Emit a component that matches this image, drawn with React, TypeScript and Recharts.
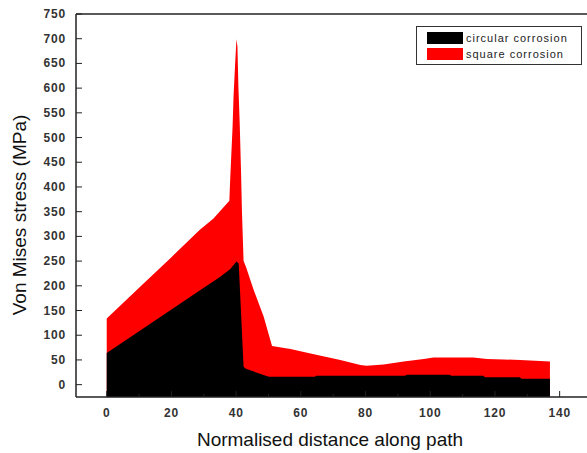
import React from "react";
import { AreaChart, Area, XAxis, YAxis, ReferenceLine } from "recharts";

// values (distance along path → Von Mises stress, MPa)
const circularX = [0, 10, 20, 30, 35, 38.2, 40.1, 40.8, 42.3, 43, 50.1, 64.3, 64.8, 92.2, 92.7, 106, 106.5, 116.4, 116.9, 127.7, 128.2, 137];
const circularY = [64, 108, 152, 196, 218, 234, 249, 245, 36, 32, 16, 16, 18, 18, 20, 20, 18, 18, 15, 15, 12, 12];

const squareX = [0, 10, 20, 28.7, 33, 37.9, 38.2, 38.9, 39.2, 39.7, 40.1, 40.4, 40.7, 41.1, 41.5, 41.8, 42.3, 43, 45.4, 48.5, 51.1, 56.8, 63, 72.2, 78.4, 80.3, 85.6, 91.8, 98, 101, 113.3, 117.5, 122.7, 127.8, 137];
const squareY = [134, 196, 258, 313, 336, 372, 421, 522, 583, 651, 699, 684, 603, 530, 435, 350, 250, 239, 192, 138, 78, 72, 63, 50, 40, 38, 41, 47, 52, 55, 55, 52, 51, 50, 47];

const xTicks = [0, 10, 20, 30, 40, 50, 60, 70, 80, 90, 100, 110, 120, 130, 140];
const yTicks = [0, 25, 50, 75, 100, 125, 150, 175, 200, 225, 250, 275, 300, 325, 350, 375, 400, 425, 450, 475, 500, 525, 550, 575, 600, 625, 650, 675, 700, 725, 750];

const SERIES = [
  { key: "circular", name: "circular corrosion", color: "#000000" },
  { key: "square", name: "square corrosion", color: "#ff0000" },
];

const FONT = "'Liberation Sans', Arial, sans-serif";
const AXIS = "#222";

// merge both series into one table keyed by distance
const table = (() => {
  const rows: Record<number, { x: number; circular?: number | null; square?: number | null }> = {};
  circularX.forEach((x, i) => {
    rows[x] = { ...(rows[x] || { x }), circular: circularY[i] };
  });
  squareX.forEach((x, i) => {
    rows[x] = { ...(rows[x] || { x }), square: squareY[i] };
  });
  return Object.values(rows)
    .sort((a, b) => a.x - b.x)
    .map((r) => ({ x: r.x, circular: r.circular ?? null, square: r.square ?? null }));
})();

const YTick = (props: any) => {
  const { x, y, payload } = props;
  const major = payload.value % 50 === 0;
  const ax = x + 10;
  return (
    <g>
      <line x1={ax} x2={ax + (major ? 6 : 3)} y1={y} y2={y} stroke={AXIS} strokeWidth={1} />
      {major && (
        <text x={x} y={y} dy={4} textAnchor="end" fontFamily={FONT} fontSize={12} fontWeight="bold" letterSpacing={0.8} fill="#333">
          {payload.value}
        </text>
      )}
    </g>
  );
};

const XTick = (props: any) => {
  const { x, y, payload } = props;
  const major = payload.value % 20 === 0;
  const ay = y - 10;
  return (
    <g>
      <line x1={x} x2={x} y1={ay} y2={ay - (major ? 6 : 3)} stroke={AXIS} strokeWidth={1} />
      {major && (
        <text x={x} y={y} dy={10} textAnchor="middle" fontFamily={FONT} fontSize={12} fontWeight="bold" letterSpacing={0.8} fill="#333">
          {payload.value}
        </text>
      )}
    </g>
  );
};

const LegendBox = () => (
  <div
    style={{
      position: "absolute",
      left: 416,
      top: 26,
      width: 166,
      height: 39,
      border: "1px solid #333",
      background: "#fff",
      padding: "3px 0 0 10px",
      boxSizing: "border-box",
      fontFamily: FONT,
      fontSize: 11,
      letterSpacing: 1,
      color: "#222",
    }}
  >
    {SERIES.map((s) => (
      <div key={s.key} style={{ display: "flex", alignItems: "center", height: 16 }}>
        <span style={{ width: 36, height: 12, background: s.color, marginRight: 3 }} />
        <span>{s.name}</span>
      </div>
    ))}
  </div>
);

export default function App() {
  return (
    <div style={{ position: "absolute", left: 0, top: 0, width: 587, height: 453, overflow: "hidden", background: "#fff" }}>
      <AreaChart width={600} height={453} data={table} margin={{ top: 14, right: 8, left: 16, bottom: 26 }}>
        <XAxis
          dataKey="x"
          type="number"
          domain={[-9.5, 150]}
          ticks={xTicks}
          allowDataOverflow
          height={30}
          tickSize={0}
          tickMargin={10}
          tick={<XTick />}
          tickLine={false}
          axisLine={{ stroke: AXIS, strokeWidth: 1.5 }}
          label={{
            content: () => (
              <text x={330} y={446} textAnchor="middle" fontFamily={FONT} fontSize={19} fill="#111">
                Normalised distance along path
              </text>
            ),
          }}
        />
        <YAxis
          type="number"
          domain={[-25, 750]}
          ticks={yTicks}
          allowDataOverflow
          width={60}
          tickSize={0}
          tickMargin={10}
          tick={<YTick />}
          tickLine={false}
          axisLine={{ stroke: AXIS, strokeWidth: 1.5 }}
          label={{
            content: () => (
              <text x={26} y={215} textAnchor="middle" fontFamily={FONT} fontSize={19} fill="#111" transform="rotate(-90 26 215)">
                Von Mises stress (MPa)
              </text>
            ),
          }}
        />
        <ReferenceLine y={750} stroke={AXIS} strokeWidth={1.5} ifOverflow="visible" />
        <Area
          dataKey="square"
          name="square corrosion"
          type="linear"
          stroke="none"
          fill="#ff0000"
          fillOpacity={1}
          baseValue={-25}
          connectNulls
          isAnimationActive={false}
        />
        <Area
          dataKey="circular"
          name="circular corrosion"
          type="linear"
          stroke="none"
          fill="#000000"
          fillOpacity={1}
          baseValue={-25}
          connectNulls
          isAnimationActive={false}
        />
      </AreaChart>
      <LegendBox />
    </div>
  );
}
